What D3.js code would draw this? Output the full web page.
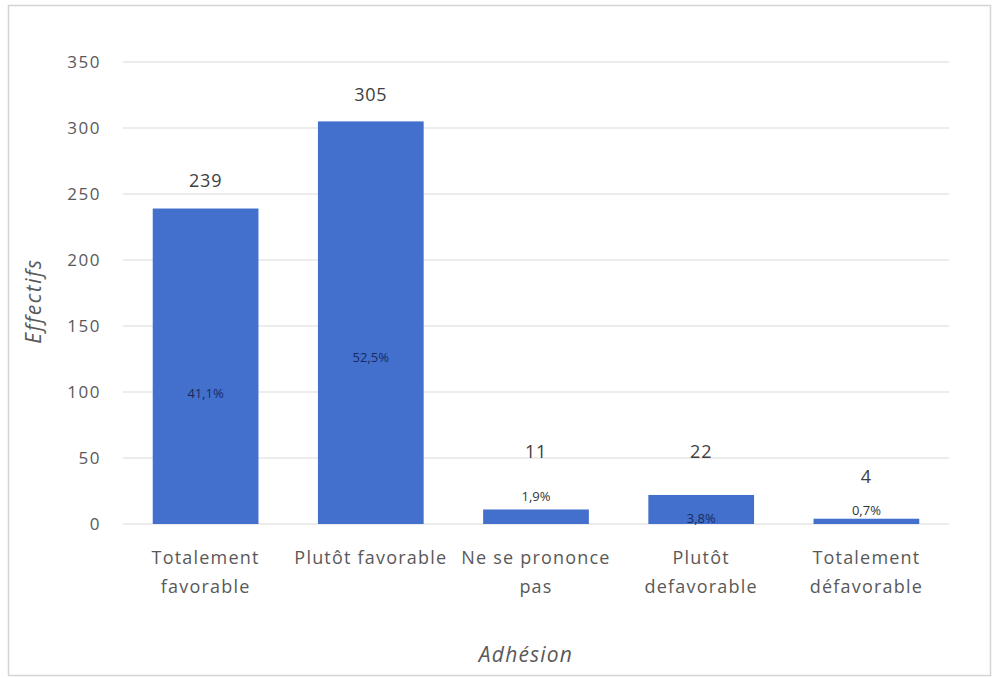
<!DOCTYPE html>
<html>
<head>
<meta charset="utf-8">
<script src="https://cdn.jsdelivr.net/npm/d3@7"></script>
<style>
  html, body { margin: 0; padding: 0; background: #fff; }
  svg { display: block; font-family: "Open Sans", "Noto Sans", sans-serif; }
</style>
</head>
<body>
<svg id="chart" width="994" height="678"></svg>
<script>
// Réponses par niveau d'adhésion
const categories = [["Totalement", "favorable"], ["Plutôt favorable"], ["Ne se prononce", "pas"], ["Plutôt", "defavorable"], ["Totalement", "défavorable"]];
const effectifs = [239, 305, 11, 22, 4];
const pourcentages = ["41,1%", "52,5%", "1,9%", "3,8%", "0,7%"];
const yTicks = [0, 50, 100, 150, 200, 250, 300, 350];

// Décalages des étiquettes (en pixels) au-dessus du haut de chaque barre
const valueLift = [22, 20, 51, 37, 36];

const svg = d3.select("#chart");
const W = 994, H = 678;
const margin = { left: 123, right: 45, top: 62, bottom: 154 };

// Cadre du graphique
svg.append("rect")
  .attr("x", 8.5).attr("y", 5.5).attr("width", 982).attr("height", 670)
  .attr("fill", "#fff").attr("stroke", "#d4d4d4").attr("stroke-width", 1.5);

const x = d3.scaleBand()
  .domain(d3.range(categories.length))
  .range([margin.left, W - margin.right])
  .paddingInner(0.36).paddingOuter(0.18);

const y = d3.scaleLinear().domain([0, 350]).range([H - margin.bottom, margin.top]);

// Quadrillage horizontal
svg.append("g")
  .selectAll("line").data(yTicks).join("line")
  .attr("x1", margin.left).attr("x2", W - margin.right)
  .attr("y1", d => y(d)).attr("y2", d => y(d))
  .attr("stroke", "#d9d9d9").attr("stroke-width", 1);

// Axe Y (étiquettes seulement)
const yAxis = svg.append("g")
  .attr("transform", `translate(${margin.left - 22},0)`)
  .call(d3.axisLeft(y).tickValues(yTicks).tickSize(0).tickPadding(0));
yAxis.select(".domain").remove();
yAxis.selectAll("text")
  .attr("fill", "#595959").attr("font-size", 17)
  .attr("letter-spacing", 1.5)
  .attr("font-family", "'Open Sans', sans-serif");

// Barres
svg.append("g")
  .selectAll("rect").data(effectifs).join("rect")
  .attr("x", (d, i) => x(i))
  .attr("width", x.bandwidth())
  .attr("y", d => y(d))
  .attr("height", d => y(0) - y(d))
  .attr("fill", "#4270cc");

// Effectifs au-dessus des barres
svg.append("g")
  .selectAll("text").data(effectifs).join("text")
  .attr("x", (d, i) => x(i) + x.bandwidth() / 2)
  .attr("y", (d, i) => y(d) - valueLift[i])
  .attr("text-anchor", "middle")
  .attr("fill", "#404040").attr("font-size", 18)
  .attr("letter-spacing", 0.8)
  .text(d => d);

// Pourcentages : dans la barre pour les grandes valeurs, au-dessus sinon
const pctY = (d, i) => {
  if (d > 100) return y(d * 0.415) + 5;
  if (i === 3) return y(0) - 1;
  return y(d) - (i === 2 ? 8 : 4);
};
svg.append("g")
  .selectAll("text").data(effectifs).join("text")
  .attr("x", (d, i) => x(i) + x.bandwidth() / 2)
  .attr("y", pctY)
  .attr("text-anchor", "middle")
  .attr("fill", (d, i) => d > 20 ? "#1a2a5e" : "#333")
  .attr("font-size", 13)
  .text((d, i) => pourcentages[i]);

// Libellés des catégories
const catG = svg.append("g");
categories.forEach((lines, i) => {
  const t = catG.append("text")
    .attr("x", x(i) + x.bandwidth() / 2)
    .attr("y", y(0) + 40)
    .attr("text-anchor", "middle")
    .attr("fill", "#595959").attr("font-size", 18)
    .attr("letter-spacing", 1.2);
  lines.forEach((l, k) => {
    t.append("tspan").attr("x", x(i) + x.bandwidth() / 2)
      .attr("dy", k === 0 ? 0 : 29).text(l);
  });
});

// Titres des axes
svg.append("text")
  .attr("x", 526)
  .attr("y", 662)
  .attr("text-anchor", "middle")
  .attr("fill", "#595959").attr("font-size", 21).attr("font-style", "italic")
  .attr("letter-spacing", 1.2)
  .text("Adhésion");

svg.append("text")
  .attr("transform", `translate(41, ${y(175) + 8}) rotate(-90)`)
  .attr("text-anchor", "middle")
  .attr("fill", "#595959").attr("font-size", 21).attr("font-style", "italic")
  .attr("letter-spacing", 1.5)
  .text("Effectifs");
</script>
</body>
</html>
